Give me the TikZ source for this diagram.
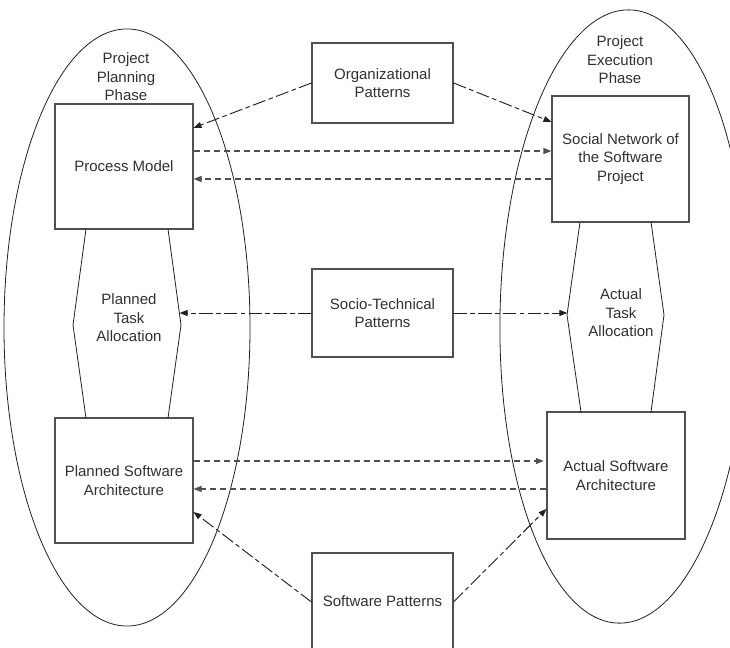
\documentclass[tikz,border=0pt]{standalone}
\usepackage{fontspec}
\setmainfont{Liberation Sans}
\usetikzlibrary{arrows.meta}
\definecolor{boxline}{HTML}{505050}
\definecolor{txt}{HTML}{303030}
\definecolor{outline}{HTML}{202020}
\tikzset{
  lbl/.style={font=\fontsize{11.25}{13.8}\selectfont, text=txt, align=center, inner sep=0pt},
  artifact/.style={lbl, draw=boxline, line width=0.8pt},
  phase/.style={draw=outline, line width=0.6pt},
  alloc/.style={draw=outline, line width=0.6pt},
  tip/.style={-{Triangle[length=6pt,width=4.5pt]}},
  flow/.style={tip, draw=boxline, line width=0.9pt, dash pattern=on 4.5pt off 3pt},
  pattern link/.style={tip, draw=outline, line width=0.7pt, dash pattern=on 10pt off 2.5pt on 3.5pt off 2.5pt},
}
\begin{document}
\begin{tikzpicture}[x=0.75pt, y=-0.75pt]
\useasboundingbox (0,0) rectangle (730,648);
\clip (0,0) rectangle (730,648);

% project phases
\draw[phase] (127,327.5) ellipse [x radius=92.25pt, y radius=223.9pt];
\draw[phase, rotate around={-1:(624,316.5)}] (624,316.5) ellipse [x radius=93pt, y radius=230pt];
\node[lbl] (planphase) at (126,77) {Project\\Planning\\Phase};
\node[lbl] (execphase) at (620,60) {Project\\Execution\\Phase};

% artifacts
\node[artifact, minimum width=103.5pt, minimum height=93.75pt] (pm) at (124,166.5) {Process Model};
\node[artifact, minimum width=102.75pt, minimum height=94.5pt] (sn) at (620.5,159) {Social Network of\\the Software\\Project};
\node[artifact, minimum width=103.5pt, minimum height=93.75pt] (psa) at (124,480.5) {Planned Software\\Architecture};
\node[artifact, minimum width=103.5pt, minimum height=95.25pt] (asa) at (616,475.5) {Actual Software\\Architecture};

% pattern catalogues
\node[artifact, minimum width=105.75pt, minimum height=60pt] (org) at (382.5,83) {Organizational\\Patterns};
\node[artifact, minimum width=105.75pt, minimum height=66pt] (st) at (382.5,313) {Socio-Technical\\Patterns};
\node[artifact, minimum width=105.75pt, minimum height=72.75pt] (sw) at (382.5,601.5) {Software Patterns};

% task allocations
\coordinate (pl1) at (86,229);  \coordinate (pl2) at (168,229);
\coordinate (pl3) at (181,325); \coordinate (pl4) at (168,418);
\coordinate (pl5) at (86,418);  \coordinate (pl6) at (73,325);
\draw[alloc] (pl1) -- (pl6) -- (pl5) (pl2) -- (pl3) -- (pl4);
\node[lbl] (pta) at (129,318) {Planned\\Task\\Allocation};
\coordinate (ptaR) at (179.6,313);

\coordinate (al1) at (580,222); \coordinate (al2) at (651,222);
\coordinate (al3) at (664,315); \coordinate (al4) at (651,412);
\coordinate (al5) at (581,412); \coordinate (al6) at (567,315);
\draw[alloc] (al1) -- (al6) -- (al5) (al2) -- (al3) -- (al4);
\node[lbl] (ata) at (621,313) {Actual\\Task\\Allocation};
\coordinate (ataL) at (567.3,313);

% planned vs actual
\draw[flow] ([yshift=11.6pt]pm.east) -- ([yshift=11.6pt]pm.east -| sn.west);
\draw[flow] ([yshift=-15pt]sn.west) -- ([yshift=-15pt]sn.west -| pm.east);
\draw[flow] ([yshift=14.6pt]psa.east) -- ([yshift=14.6pt,xshift=-2pt]psa.east -| asa.west);
\draw[flow] ([yshift=-10.1pt]asa.west) -- ([yshift=-10.1pt]asa.west -| psa.east);

% pattern links
\draw[pattern link] (org.west) -- ([yshift=29pt]pm.east);
\draw[pattern link] (org.east) -- ([yshift=27.75pt]sn.west);
\draw[pattern link] (st.west) -- (ptaR);
\draw[pattern link] (st.east) -- (ataL);
\draw[pattern link] ([yshift=-0.4pt]sw.west) -- ([yshift=-23.6pt]psa.east);
\draw[pattern link] ([yshift=-0.4pt]sw.east) -- ([yshift=-25pt]asa.west);
\end{tikzpicture}
\end{document}
